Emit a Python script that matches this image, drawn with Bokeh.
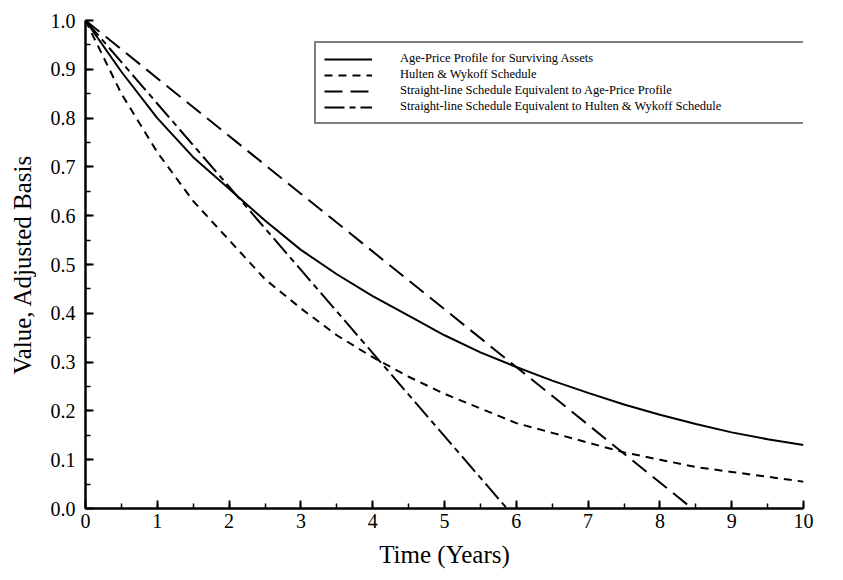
from bokeh.plotting import figure
from bokeh.models import Range1d, Legend, LegendItem, SingleIntervalTicker, NumeralTickFormatter
from bokeh.embed import file_html
from bokeh.resources import INLINE

# ---- data ----
years = [0, 0.5, 1, 1.5, 2, 2.5, 3, 3.5, 4, 4.5, 5, 5.5, 6, 6.5, 7, 7.5, 8, 8.5, 9, 9.5, 10]
age_price = [1.0, 0.895, 0.80, 0.72, 0.655, 0.59, 0.53, 0.48, 0.435, 0.395, 0.355, 0.32,
             0.29, 0.262, 0.237, 0.213, 0.192, 0.173, 0.156, 0.142, 0.13]
hulten_wykoff = [1.0, 0.85, 0.73, 0.63, 0.55, 0.47, 0.41, 0.355, 0.31, 0.27, 0.235, 0.205,
                 0.175, 0.155, 0.135, 0.115, 0.10, 0.085, 0.075, 0.065, 0.055]
sl_ap_x = [0, 8.45]
sl_ap_y = [1.0, 0.0]
sl_hw_x = [0, 5.87]
sl_hw_y = [1.0, 0.0]

labels = [
    "Age-Price Profile for Surviving Assets",
    "Hulten & Wykoff Schedule",
    "Straight-line Schedule Equivalent to Age-Price Profile",
    "Straight-line Schedule Equivalent to Hulten & Wykoff Schedule",
]

FONT = "Liberation Serif"

p = figure(width=843, height=580, output_backend="svg", toolbar_location=None,
           x_range=Range1d(0, 10), y_range=Range1d(0, 1),
           min_border_left=85, min_border_right=40, min_border_top=20, min_border_bottom=72)
p.outline_line_color = None
p.grid.visible = False
p.background_fill_color = "white"
p.border_fill_color = "white"

r1 = p.line(years, age_price, line_color="black", line_width=2)
r2 = p.line(years, hulten_wykoff, line_color="black", line_width=2, line_dash="8 6")
r3 = p.line(sl_ap_x, sl_ap_y, line_color="black", line_width=2, line_dash="18 8")
r4 = p.line(sl_hw_x, sl_hw_y, line_color="black", line_width=2, line_dash="20 5 6 5")

p.xaxis.ticker = SingleIntervalTicker(interval=1, num_minor_ticks=2)
p.yaxis.ticker = SingleIntervalTicker(interval=0.1, num_minor_ticks=2)
p.yaxis.formatter = NumeralTickFormatter(format="0.0")

for ax in (p.xaxis, p.yaxis):
    ax.axis_line_width = 2.5
    ax.axis_line_color = "black"
    ax.major_tick_in = 8
    ax.major_tick_out = 0
    ax.minor_tick_in = 5
    ax.minor_tick_out = 0
    ax.major_tick_line_width = 2
    ax.minor_tick_line_width = 1.5
    ax.major_tick_line_color = "black"
    ax.minor_tick_line_color = "black"
    ax.major_label_text_font = FONT
    ax.major_label_text_font_size = "20px"
    ax.major_label_text_color = "black"
    ax.axis_label_text_font = FONT
    ax.axis_label_text_font_size = "25px"
    ax.axis_label_text_font_style = "normal"
    ax.axis_label_text_color = "black"

p.xaxis.axis_label = "Time (Years)"
p.yaxis.axis_label = "Value, Adjusted Basis"
p.xaxis.major_label_standoff = 5
p.yaxis.major_label_standoff = 10
p.xaxis.axis_label_standoff = 10
p.yaxis.axis_label_standoff = 12

legend = Legend(
    items=[LegendItem(label=l, renderers=[r]) for l, r in zip(labels, [r1, r2, r3, r4])],
    location=(229, 384),
    label_text_font=FONT, label_text_font_size="12.5px", label_text_color="black",
    glyph_width=48, glyph_height=12, label_height=12, label_standoff=28,
    spacing=1, padding=8, margin=0,
    border_line_color="black", border_line_width=2,
    background_fill_color="white", background_fill_alpha=1.0,
    label_width=560,
)
p.add_layout(legend)

open("out.html", "w").write(file_html(p, INLINE))
